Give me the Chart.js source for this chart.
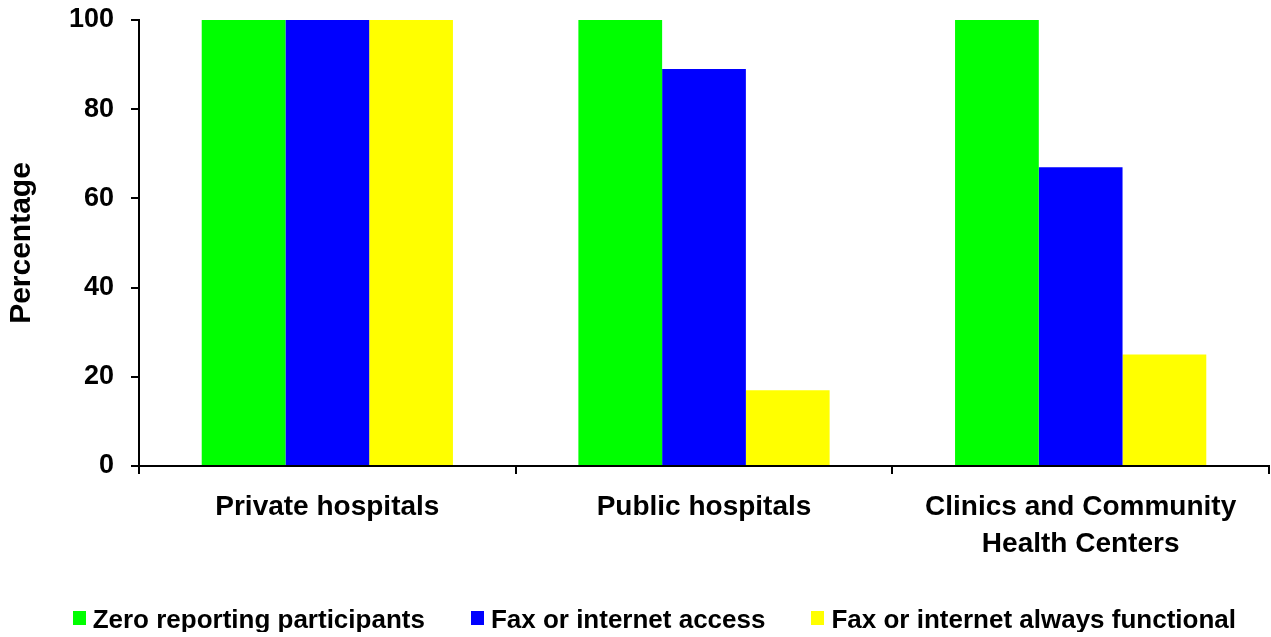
<!DOCTYPE html>
<html>
<head>
<meta charset="utf-8">
<script src="https://cdn.jsdelivr.net/npm/chart.js@4"></script>
<style>
  body { margin: 0; background: #fff; }
  #wrap { width: 1271px; height: 637px; }
</style>
</head>
<body>
<div id="wrap"><canvas id="myChart"></canvas></div>
<script>
const categories = ['Private hospitals', 'Public hospitals', ['Clinics and Community', 'Health Centers']]
const seriesNames = ['Zero reporting participants', 'Fax or internet access', 'Fax or internet always functional']
const zeroReporting = [100, 100, 100]
const faxAccess = [100, 89, 67]
const faxFunctional = [100, 17, 25]
const yTicks = [0, 20, 40, 60, 80, 100]
const colors = ['#00ff00', '#0000ff', '#ffff00']

const font = 'Liberation Sans, Arial, sans-serif'

// small square used as legend marker (sits a little above the text middle)
function marker(color) {
  const c = document.createElement('canvas')
  c.width = 13
  c.height = 20
  const g = c.getContext('2d')
  g.fillStyle = color
  g.fillRect(0, 0, 13, 14)
  return c
}

// nudge the legend row to where the original has it
const legendShift = {
  id: 'legendShift',
  afterLayout(chart) {
    const lg = chart.legend
    lg.left += 19
    lg.right += 19
    lg.top -= 5
    lg.bottom -= 5
  }
}

function renderChart() {
  const ctx = document.getElementById('myChart')
  const values = [zeroReporting, faxAccess, faxFunctional]

  new Chart(ctx, {
    type: 'bar',
    data: {
      labels: categories,
      datasets: seriesNames.map((name, i) => ({
        label: name,
        data: values[i],
        backgroundColor: colors[i],
        borderWidth: 0,
        pointStyle: marker(colors[i]),
        barPercentage: 1,
        categoryPercentage: 0.667
      }))
    },
    plugins: [legendShift],
    options: {
      responsive: true,
      maintainAspectRatio: false,
      animation: false,
      layout: { padding: { top: 20, right: 2, left: 0, bottom: 0 } },
      plugins: {
        tooltip: { enabled: false },
        legend: {
          position: 'bottom',
          align: 'end',
          maxHeight: 76,
          labels: {
            usePointStyle: true,
            pointStyleWidth: 1,
            padding: 52,
            color: '#000',
            font: { family: font, size: 26, weight: 'bold' }
          }
        }
      },
      scales: {
        x: {
          grid: { drawOnChartArea: false, drawTicks: true, tickLength: 8, color: '#000', lineWidth: 2 },
          border: { color: '#000', width: 2 },
          ticks: {
            color: '#000',
            padding: 14,
            maxRotation: 0,
            font: { family: font, size: 28, weight: 'bold', lineHeight: 1.35 }
          },
          afterFit: scale => { scale.height = 95 }
        },
        y: {
          min: 0,
          max: 100,
          afterBuildTicks: scale => { scale.ticks = yTicks.map(v => ({ value: v })) },
          grid: { drawOnChartArea: false, drawTicks: true, tickLength: 8, color: '#000', lineWidth: 2 },
          border: { color: '#000', width: 2 },
          ticks: {
            color: '#000',
            padding: 17,
            font: { family: font, size: 27, weight: 'bold' }
          },
          title: {
            display: true,
            text: 'Percentage',
            color: '#000',
            padding: { top: 4, bottom: 0 },
            font: { family: font, size: 30, weight: 'bold', lineHeight: 1.2 }
          },
          afterFit: scale => {
            scale.width = 139
            scale.paddingTop = 14
            scale.paddingBottom = 14
          }
        }
      }
    }
  })
}

renderChart()
</script>
</body>
</html>
